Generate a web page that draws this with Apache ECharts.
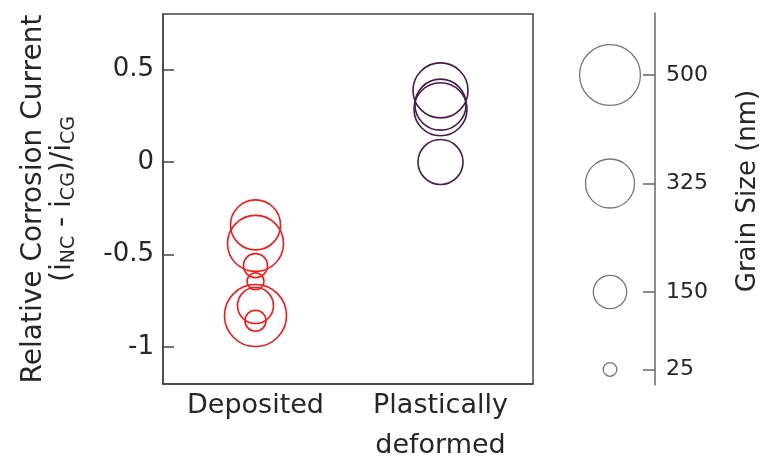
<!DOCTYPE html>
<html>
<head>
<meta charset="utf-8">
<script src="https://cdn.jsdelivr.net/npm/echarts@6/dist/echarts.min.js"></script>
<style>
  html, body { margin: 0; padding: 0; background: #fff; }
  #chart { width: 766px; height: 462px; }
</style>
</head>
<body>
<div id="chart"></div>
<script>
// Sample groups along the x axis
const categories = ['Deposited', 'Plastically\ndeformed'];

// Relative corrosion current and grain size (nm) of each sample
const depositedCurrent = [-0.34, -0.44, -0.56, -0.645, -0.776, -0.83, -0.858];
const depositedGrain   = [338, 424, 78, 39, 175, 520, 60];
const deformedCurrent  = [0.387, 0.31, 0.285, 0.0];
const deformedGrain    = [409, 352, 380, 274];

// Tick values
const currentTicks = [-1, -0.5, 0, 0.5];
const legendGrain  = [25, 150, 325, 500];

const FONT = 'DejaVu Sans';
const TEXT = '#262626';
const AXIS = '#444';

// bubble area proportional to grain size
const sizeOf = g => 2.72 * Math.sqrt(g);

const toPoints = (cat, vals, grains) =>
  vals.map((v, i) => ({ value: [cat, v], grain: grains[i] }));

const bubble = (name, data, color, xi, yi, width) => ({
  type: 'scatter',
  name: name,
  xAxisIndex: xi,
  yAxisIndex: yi,
  data: data,
  symbol: 'circle',
  symbolSize: (val, params) => sizeOf(params.data.grain),
  itemStyle: { color: 'rgba(0,0,0,0)', borderColor: color, borderWidth: width, opacity: 1 },
  emphasis: { disabled: true },
  silent: true
});

const chart = echarts.init(document.getElementById('chart'), null, { renderer: 'canvas' });

chart.setOption({
  animation: false,
  backgroundColor: '#fff',
  grid: [
    { left: 163, right: 233, top: 14, bottom: 78, outerBoundsMode: 'none', containLabel: false,
      show: true, borderColor: AXIS, borderWidth: 1.5, backgroundColor: 'transparent' },
    { left: 565, right: 111, top: 13, bottom: 77, outerBoundsMode: 'none', containLabel: false }
  ],
  xAxis: [
    {
      type: 'category', gridIndex: 0, data: categories, boundaryGap: true,
      axisLine: { onZero: false, lineStyle: { color: AXIS, width: 1.5 } },
      axisTick: { inside: true, length: 10, alignWithLabel: true, lineStyle: { color: AXIS, width: 1.5 } },
      axisLabel: { color: TEXT, fontFamily: FONT, fontSize: 27, lineHeight: 40, margin: 2 },
      splitLine: { show: false }
    },
    { type: 'value', gridIndex: 1, min: 0, max: 2, show: false }
  ],
  yAxis: [
    {
      type: 'value', gridIndex: 0, min: -1.2, max: 0.8,
      axisLine: { show: true, onZero: false, lineStyle: { color: AXIS, width: 1.5 } },
      axisTick: { show: true, inside: true, length: 11, customValues: currentTicks, lineStyle: { color: AXIS, width: 1.5 } },
      axisLabel: { color: TEXT, fontFamily: FONT, fontSize: 26, margin: 9, customValues: currentTicks },
      splitLine: { show: false },
      name: '{a|Relative Corrosion Current}\n{b|(i}{s|NC}{b| - i}{s|CG}{b|)/i}{s|CG}',
      nameLocation: 'middle',
      nameRotate: 90,
      nameGap: 84,
      nameTextStyle: {
        color: TEXT, fontFamily: FONT,
        rich: {
          a: { fontFamily: FONT, fontSize: 28, lineHeight: 30, color: TEXT },
          b: { fontFamily: FONT, fontSize: 28, lineHeight: 30, color: TEXT, verticalAlign: 'top' },
          s: { fontFamily: FONT, fontSize: 19, lineHeight: 19, color: TEXT, verticalAlign: 'bottom', padding: [16, 0, 0, 0] }
        }
      }
    },
    {
      type: 'value', gridIndex: 1, min: 0, max: 600, position: 'right',
      axisLine: { show: true, onZero: false, lineStyle: { color: '#666', width: 1.5 } },
      axisTick: { show: true, inside: true, length: 12, customValues: legendGrain, lineStyle: { color: '#666', width: 1.5 } },
      axisLabel: { color: TEXT, fontFamily: FONT, fontSize: 22, margin: 11, customValues: legendGrain },
      splitLine: { show: false },
      name: 'Grain Size (nm)',
      nameLocation: 'middle',
      nameRotate: 90,
      nameGap: 80,
      nameTextStyle: { color: TEXT, fontFamily: FONT, fontSize: 26, padding: [0, 0, 0, 16] }
    }
  ],
  series: [
    bubble('Deposited', toPoints(categories[0], depositedCurrent, depositedGrain), '#ff1414', 0, 0, 1.6),
    bubble('Plastically deformed', toPoints(categories[1], deformedCurrent, deformedGrain), '#4a1a4c', 0, 0, 1.6),
    bubble('Grain size', legendGrain.map(g => ({ value: [1, g], grain: g })), '#777', 1, 1, 1.3)
  ]
});
</script>
</body>
</html>
